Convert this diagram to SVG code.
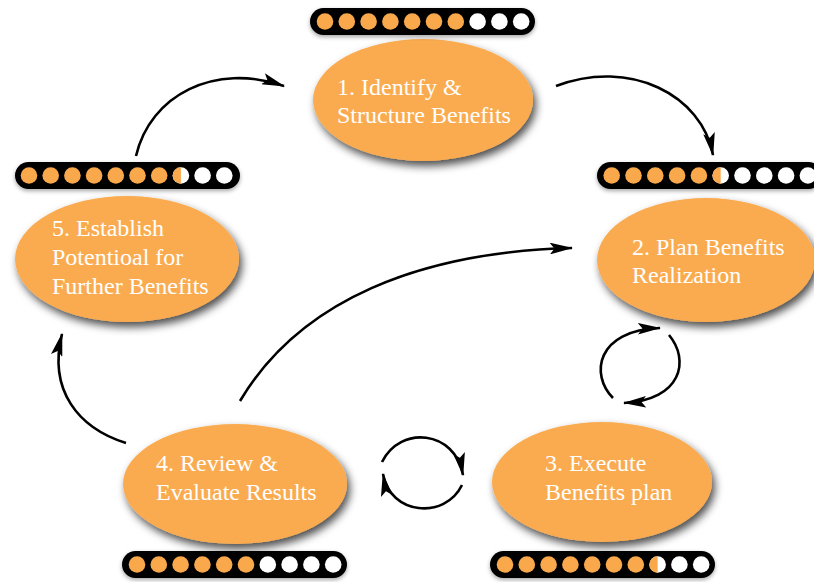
<svg xmlns="http://www.w3.org/2000/svg" width="814" height="582" viewBox="0 0 814 582">
<defs>
<filter id="sh" x="-20%" y="-20%" width="150%" height="160%">
<feDropShadow dx="3" dy="5" stdDeviation="4" flood-color="#000" flood-opacity="0.7"/>
</filter>
<filter id="bsh" x="-10%" y="-40%" width="120%" height="200%">
<feDropShadow dx="0" dy="2" stdDeviation="2" flood-color="#000" flood-opacity="0.35"/>
</filter>
<marker id="ah" viewBox="0 0 20 10" refX="19" refY="5" markerWidth="9" markerHeight="4.5" orient="auto" markerUnits="strokeWidth">
<path d="M0,0 L20,5 L0,10 L4,5 Z" fill="#000"/>
</marker>
<style>
.node{fill:#FBAB4F;filter:url(#sh)}
.lbl{font-family:'Liberation Serif','Times New Roman',Tinos,'Nimbus Roman','FreeSerif','DejaVu Serif',serif;font-size:24px;fill:#fff}
.bar{fill:#000;filter:url(#bsh)}
.o{fill:#F9A84C}
.w{fill:#fff}
.c{fill:none;stroke:#000;stroke-width:2.6;marker-end:url(#ah)}
</style>
</defs>
<rect width="814" height="582" fill="#fff"/>

<g id="connectors">
<path class="c" d="M136,156 C150,95 215,62 284,86"/>
<path class="c" d="M556,86 C630,58 702,95 713,155"/>
<path class="c" d="M240,401 C300,300 420,252 572,248"/>
<path class="c" d="M126,443 C78,428 48,390 62,334"/>
<path class="c" d="M613,398 C590,375 596,330 660,328"/>
<path class="c" d="M669,335 C690,360 682,400 624,403"/>
<path class="c" d="M382,462 C400,425 455,430 463,475"/>
<path class="c" d="M462,485 C445,520 390,515 383,474"/>
</g>

<g id="node1">
<ellipse class="node" cx="423" cy="100" rx="110" ry="61"/>
<text class="lbl" x="337" y="95">1. Identify &amp;</text>
<text class="lbl" x="337" y="123">Structure Benefits</text>
</g>
<g id="node2">
<ellipse class="node" cx="706" cy="260" rx="109" ry="62"/>
<text class="lbl" x="632" y="255">2. Plan Benefits</text>
<text class="lbl" x="632" y="283">Realization</text>
</g>
<g id="node3">
<ellipse class="node" cx="602" cy="482" rx="110" ry="60"/>
<text class="lbl" x="545" y="471">3. Execute</text>
<text class="lbl" x="545" y="500">Benefits plan</text>
</g>
<g id="node4">
<ellipse class="node" cx="235" cy="484" rx="112" ry="60"/>
<text class="lbl" x="156" y="471">4. Review &amp;</text>
<text class="lbl" x="156" y="500">Evaluate Results</text>
</g>
<g id="node5">
<ellipse class="node" cx="127" cy="259" rx="112" ry="63"/>
<text class="lbl" x="52" y="236">5. Establish</text>
<text class="lbl" x="52" y="265">Potentioal for</text>
<text class="lbl" x="52" y="294">Further Benefits</text>
</g>

<g id="bar1">
<rect class="bar" x="310" y="8" width="225" height="27" rx="13.5"/>
<circle class="o" cx="325" cy="21.5" r="8.3"/>
<circle class="o" cx="346.8" cy="21.5" r="8.3"/>
<circle class="o" cx="368.6" cy="21.5" r="8.3"/>
<circle class="o" cx="390.4" cy="21.5" r="8.3"/>
<circle class="o" cx="412.2" cy="21.5" r="8.3"/>
<circle class="o" cx="434" cy="21.5" r="8.3"/>
<circle class="o" cx="455.8" cy="21.5" r="8.3"/>
<circle class="w" cx="477.6" cy="21.5" r="8.3"/>
<circle class="w" cx="499.4" cy="21.5" r="8.3"/>
<circle class="w" cx="521.2" cy="21.5" r="8.3"/>
</g>
<g id="bar2">
<rect class="bar" x="597" y="162" width="225" height="27" rx="13.5"/>
<circle class="o" cx="611.7" cy="175.5" r="8.3"/>
<circle class="o" cx="633.5" cy="175.5" r="8.3"/>
<circle class="o" cx="655.3" cy="175.5" r="8.3"/>
<circle class="o" cx="677.1" cy="175.5" r="8.3"/>
<circle class="o" cx="698.9" cy="175.5" r="8.3"/>
<circle class="w" cx="720.7" cy="175.5" r="8.3"/>
<path class="o" d="M720.7,167.2 A8.3,8.3 0 0 0 720.7,183.8 Z"/>
<circle class="w" cx="742.5" cy="175.5" r="8.3"/>
<circle class="w" cx="764.3" cy="175.5" r="8.3"/>
<circle class="w" cx="786.1" cy="175.5" r="8.3"/>
<circle class="w" cx="807.9" cy="175.5" r="8.3"/>
</g>
<g id="bar3">
<rect class="bar" x="15" y="162" width="225" height="27" rx="13.5"/>
<circle class="o" cx="29" cy="175.5" r="8.3"/>
<circle class="o" cx="50.7" cy="175.5" r="8.3"/>
<circle class="o" cx="72.4" cy="175.5" r="8.3"/>
<circle class="o" cx="94.1" cy="175.5" r="8.3"/>
<circle class="o" cx="115.8" cy="175.5" r="8.3"/>
<circle class="o" cx="137.5" cy="175.5" r="8.3"/>
<circle class="o" cx="159.2" cy="175.5" r="8.3"/>
<circle class="w" cx="180.9" cy="175.5" r="8.3"/>
<path class="o" d="M180.9,167.2 A8.3,8.3 0 0 0 180.9,183.8 Z"/>
<circle class="w" cx="202.6" cy="175.5" r="8.3"/>
<circle class="w" cx="224.3" cy="175.5" r="8.3"/>
</g>
<g id="bar4">
<rect class="bar" x="122" y="551" width="225" height="27" rx="13.5"/>
<circle class="o" cx="137" cy="564.5" r="8.3"/>
<circle class="o" cx="158.8" cy="564.5" r="8.3"/>
<circle class="o" cx="180.6" cy="564.5" r="8.3"/>
<circle class="o" cx="202.4" cy="564.5" r="8.3"/>
<circle class="o" cx="224.2" cy="564.5" r="8.3"/>
<circle class="o" cx="246" cy="564.5" r="8.3"/>
<circle class="w" cx="267.8" cy="564.5" r="8.3"/>
<circle class="w" cx="289.6" cy="564.5" r="8.3"/>
<circle class="w" cx="311.4" cy="564.5" r="8.3"/>
<circle class="w" cx="333.2" cy="564.5" r="8.3"/>
</g>
<g id="bar5">
<rect class="bar" x="490" y="551" width="225" height="27" rx="13.5"/>
<circle class="o" cx="505" cy="564.5" r="8.3"/>
<circle class="o" cx="526.8" cy="564.5" r="8.3"/>
<circle class="o" cx="548.6" cy="564.5" r="8.3"/>
<circle class="o" cx="570.4" cy="564.5" r="8.3"/>
<circle class="o" cx="592.2" cy="564.5" r="8.3"/>
<circle class="o" cx="614" cy="564.5" r="8.3"/>
<circle class="o" cx="635.8" cy="564.5" r="8.3"/>
<circle class="w" cx="657.6" cy="564.5" r="8.3"/>
<path class="o" d="M657.6,556.2 A8.3,8.3 0 0 0 657.6,572.8 Z"/>
<circle class="w" cx="679.4" cy="564.5" r="8.3"/>
<circle class="w" cx="701.2" cy="564.5" r="8.3"/>
</g>
</svg>
